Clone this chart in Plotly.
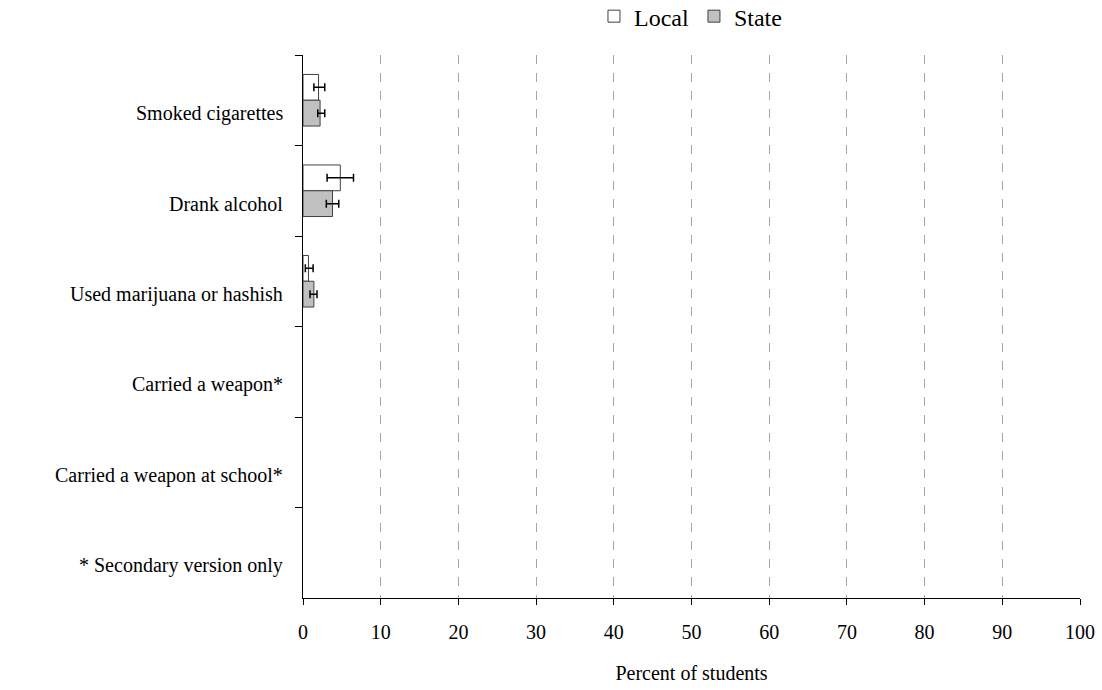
import plotly.graph_objects as go

categories = [
    "Smoked cigarettes",
    "Drank alcohol",
    "Used marijuana or hashish",
    "Carried a weapon*",
    "Carried a weapon at school*",
    "* Secondary version only",
]
local_values = [2.0, 4.8, 0.7, None, None, None]
local_lower = [1.4, 3.1, 0.3, None, None, None]
local_upper = [2.8, 6.5, 1.3, None, None, None]
state_values = [2.2, 3.8, 1.4, None, None, None]
state_lower = [1.9, 3.0, 0.9, None, None, None]
state_upper = [2.8, 4.6, 1.8, None, None, None]
x_ticks = [0, 10, 20, 30, 40, 50, 60, 70, 80, 90, 100]

FONT = "Liberation Serif"
FS = 20


def plus(v, u):
    return [None if a is None else b - a for a, b in zip(v, u)]


def minus(v, l):
    return [None if a is None else a - b for a, b in zip(v, l)]


fig = go.Figure()
fig.add_trace(go.Bar(
    name="Local", y=categories, x=local_values, orientation="h",
    marker=dict(color="white", line=dict(color="#404040", width=1)),
    error_x=dict(type="data", symmetric=False,
                 array=plus(local_values, local_upper),
                 arrayminus=minus(local_values, local_lower),
                 color="black", thickness=1.5, width=4),
))
fig.add_trace(go.Bar(
    name="State", y=categories, x=state_values, orientation="h",
    marker=dict(color="#c0c0c0", line=dict(color="#404040", width=1)),
    error_x=dict(type="data", symmetric=False,
                 array=plus(state_values, state_upper),
                 arrayminus=minus(state_values, state_lower),
                 color="black", thickness=1.5, width=4),
))

for c in categories:
    fig.add_annotation(
        x=0, xref="paper", y=c, yref="y", text=c, showarrow=False,
        xanchor="right", xshift=-18, yshift=-13,
        font=dict(family=FONT, size=FS, color="black"),
    )

fig.update_layout(
    width=1102, height=690,
    margin=dict(l=303, r=22, t=55, b=92, autoexpand=False),
    paper_bgcolor="white", plot_bgcolor="white",
    font=dict(family=FONT, size=FS, color="black"),
    barmode="group", bargap=0.43, bargroupgap=0,
    showlegend=True,
    legend=dict(orientation="h", xref="container", yref="container",
                x=0.539, xanchor="left", y=0.976, yanchor="middle",
                font=dict(family=FONT, size=24), itemwidth=30,
                traceorder="normal", bgcolor="rgba(0,0,0,0)"),
)
fig.update_xaxes(
    range=[0, 100], tickvals=x_ticks, ticks="outside", ticklen=6,
    tickcolor="black", showline=True, linecolor="black", linewidth=1,
    showgrid=True, gridcolor="#a6a6a6", griddash="dash", gridwidth=1,
    zeroline=False, ticklabelstandoff=10,
    title=dict(text="Percent of students", standoff=23,
               font=dict(family=FONT, size=FS)),
)
fig.update_yaxes(
    type="category", categoryarray=categories, categoryorder="array",
    autorange="reversed", showticklabels=False, ticks="outside",
    tickson="boundaries", ticklen=7, tickcolor="black",
    showline=True, linecolor="black", linewidth=1, showgrid=False,
)

fig.write_html("out.html", config={"displayModeBar": False},
               post_script="document.body.style.margin='0px';document.body.style.overflow='hidden';")
